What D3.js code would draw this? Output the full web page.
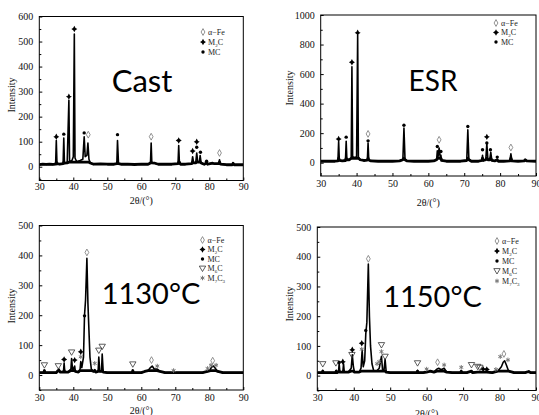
<!DOCTYPE html>
<html><head><meta charset="utf-8">
<script src="https://cdn.jsdelivr.net/npm/d3@7/dist/d3.min.js"></script>
<style>body{margin:0;background:#fff}svg{display:block}</style>
</head><body>
<script>
// ---------- DATA ----------
const xTicks = [30,40,50,60,70,80,90];
const castYTicks = [0,100,200,300,400,500,600];
const esrYTicks = [0,200,400,600,800,1000];
const hotYTicks = [0,100,200,300,400,500];

const castCurve = [[30,8],[31,10],[32,9],[33,10],[34,9],[34.8,10],[35.0,105],[35.2,12],[36,10],[37.0,12],[37.2,115],[37.4,14],[38.2,15],[38.7,265],[38.9,20],[39.6,25],[40.0,40],[40.3,530],[40.5,35],[41,20],[42,25],[42.8,30],[43.2,120],[43.5,40],[44.0,45],[44.3,95],[44.6,30],[45,15],[46,10],[48,11],[50,10],[52,10],[52.8,12],[53.0,105],[53.3,12],[54,10],[56,10],[58,9],[60,10],[62,10],[62.7,15],[62.9,95],[63.1,15],[64,14],[65,10],[67,10],[69,10],[70.8,12],[71.0,85],[71.2,20],[71.5,10],[73,10],[74.8,12],[75.1,40],[75.4,15],[76.0,15],[76.3,55],[76.6,20],[77.1,18],[77.3,45],[77.6,15],[78.5,10],[79.2,15],[79.5,10],[81,14],[81.5,12],[82.7,12],[83.0,28],[83.3,10],[85,8],[86.8,8],[87,14],[87.3,8],[90,8]];
const esrCurve = [[30,10],[32,10],[34,10],[34.8,12],[35.0,144],[35.2,15],[36,12],[36.9,15],[37.1,145],[37.3,20],[38.0,20],[38.5,30],[38.7,650],[38.9,40],[39.5,35],[40.0,40],[40.3,863],[40.5,40],[41,20],[42,15],[43.0,18],[43.2,133],[43.4,18],[44,12],[46,10],[48,10],[50,10],[52,12],[52.9,20],[53.2,234],[53.5,20],[54,12],[56,10],[58,10],[60,10],[61.5,12],[62.3,20],[62.5,80],[62.7,40],[63.0,100],[63.3,40],[63.5,50],[63.7,15],[65,10],[67,10],[69,10],[70.7,15],[71.0,222],[71.3,20],[72,10],[74,10],[74.9,15],[75.1,50],[75.3,15],[76.0,20],[76.3,130],[76.6,20],[77.1,20],[77.4,70],[77.7,15],[78.5,12],[79.2,20],[79.5,10],[81,10],[82.7,12],[83.0,60],[83.3,12],[85,10],[86.7,12],[87,20],[87.4,12],[90,10]];
const c1130Curve = [[30,8],[31.3,8],[31.5,15],[31.7,8],[33,8],[35,8],[35.5,15],[35.8,20],[36.1,10],[37.1,10],[37.3,40],[37.5,10],[38.5,10],[39.3,20],[39.5,55],[39.8,15],[40.4,30],[40.6,12],[41.5,10],[42.0,20],[42.2,45],[42.5,25],[43.0,60],[43.3,200],[43.6,250],[44.0,390],[44.3,240],[44.6,150],[44.9,60],[45.3,20],[46,12],[46.3,18],[46.6,10],[47.3,12],[47.5,60],[47.8,12],[48.3,12],[48.5,70],[48.8,10],[50,8],[52,8],[55,8],[57.3,8],[57.5,15],[57.7,8],[60,8],[61,12],[62,15],[62.7,25],[63.2,30],[63.8,20],[64.7,20],[65.5,12],[67,8],[69.3,8],[69.5,12],[69.7,8],[72,8],[75,8],[78,8],[79.5,12],[80.3,20],[80.8,28],[81.3,30],[81.8,22],[82.5,12],[84,8],[87,8],[90,8]];
const c1150Curve = [[30,10],[31.3,10],[31.5,18],[31.7,10],[33,10],[35,10],[35.2,18],[35.4,10],[35.8,12],[36.0,40],[36.2,12],[37.0,12],[37.2,40],[37.4,12],[38.5,12],[39.3,25],[39.6,70],[39.9,30],[40.2,12],[41.5,12],[42.0,25],[42.3,85],[42.6,30],[43.0,50],[43.3,140],[43.6,180],[44.0,375],[44.3,200],[44.6,100],[45.0,40],[45.5,15],[46.3,15],[46.6,20],[47.0,25],[47.6,65],[47.9,20],[48.3,18],[48.6,55],[48.9,12],[50,10],[53,10],[55,10],[57.3,10],[57.5,18],[57.7,10],[59,10],[60,12],[61,15],[62,12],[62.8,22],[63.3,25],[64,20],[64.8,25],[65.5,12],[67,10],[69.3,10],[69.5,15],[69.7,10],[71,10],[72.3,15],[72.6,10],[74,12],[75.5,12],[76.5,12],[78,10],[79.5,15],[80.5,30],[81.0,45],[81.4,50],[81.9,35],[82.5,15],[84,10],[87,10],[88,14],[88.5,10],[90,10]];

// markers: [2θ, intensity, phase]
const castMarks = [[35.0,120,"M2C"],[37.2,130,"MC"],[38.7,280,"M2C"],[40.3,550,"M2C"],[43.2,135,"MC"],[44.4,128,"aFe"],[53.0,128,"MC"],[62.9,120,"aFe"],[71.0,105,"M2C"],[75.1,63,"M2C"],[76.3,100,"M2C"],[76.3,78,"MC"],[77.4,58,"MC"],[79.2,22,"MC"],[83.0,55,"aFe"]];
const esrMarks = [[35.0,160,"M2C"],[37.1,173,"MC"],[38.7,680,"M2C"],[40.3,880,"M2C"],[43.2,195,"aFe"],[43.2,148,"MC"],[53.2,254,"MC"],[62.5,110,"MC"],[63.0,155,"aFe"],[63.5,76,"MC"],[71.0,245,"MC"],[75.1,88,"MC"],[76.3,175,"M2C"],[76.3,133,"MC"],[77.3,88,"MC"],[79.2,38,"MC"],[83.0,103,"aFe"]];
const c1130Marks = [[31.5,33,"M6C"],[35.6,30,"M6C"],[37.3,52,"M2C"],[39.5,76,"M6C"],[40.4,50,"M2C"],[42.2,61,"M7C3"],[42.2,78,"M2C"],[43.3,198,"MC"],[44.0,410,"aFe"],[46.3,39,"M7C3"],[47.5,82,"M6C"],[48.5,95,"M6C"],[57.5,36,"M6C"],[63.0,50,"aFe"],[64.7,30,"M7C3"],[69.5,15,"M7C3"],[79.5,22,"M7C3"],[80.5,33,"M7C3"],[81.0,48,"aFe"],[82.0,33,"M7C3"]];
const c1150Marks = [[31.5,39,"M6C"],[35.1,42,"M6C"],[36.0,44,"MC"],[37.0,47,"M2C"],[39.5,70,"M6C"],[39.6,87,"M2C"],[42.2,109,"M2C"],[42.2,89,"M7C3"],[43.3,152,"MC"],[44.0,393,"aFe"],[46.4,40,"M7C3"],[47.0,47,"M7C3"],[47.6,81,"M7C3"],[47.6,103,"M6C"],[48.6,64,"M6C"],[57.5,42,"M6C"],[60.0,22,"M7C3"],[63.0,45,"aFe"],[64.8,36,"M7C3"],[69.5,28,"M7C3"],[72.3,36,"M6C"],[74.0,30,"M6C"],[74.6,27,"M6C"],[75.5,22,"M2C"],[76.5,21,"M2C"],[79.0,21,"M7C3"],[80.2,64,"M7C3"],[81.2,73,"aFe"],[82.3,53,"M7C3"]];

const legend3 = ["aFe","M2C","MC"];
const legend5 = ["aFe","M2C","MC","M6C","M7C3"];
const phaseLabels = {aFe:["α−Fe"], M2C:["M","2","C"], MC:["MC"], M6C:["M","6","C"], M7C3:["M","7","C","3"]};
const panelTitles = ["Cast","ESR","1130°C","1150°C"];

// ---------- LAYOUT ----------
const panels = [
  {curve:castCurve, marks:castMarks, yTicks:castYTicks, yDom:[-55,600], minor:50, legend:legend3,
   x0:39.3, x1:243.3, yb:180.5, yt:16.5, tickLab:11.5, xTitle:23.5, yTitleX:15, yTitleY:95,
   title:panelTitles[0], tX:142, tY:92, tSize:31, legX:203, legY:32, legDy:10},
  {curve:esrCurve, marks:esrMarks, yTicks:esrYTicks, yDom:[-90,1000], minor:100, legend:legend3,
   x0:320.7, x1:536, yb:176, yt:15, tickLab:13, xTitle:29.5, yTitleX:293, yTitleY:88,
   title:panelTitles[1], tX:433, tY:91, tSize:28, legX:496, legY:23, legDy:9.5},
  {curve:c1130Curve, marks:c1130Marks, yTicks:hotYTicks, yDom:[-50,500], minor:50, legend:legend5,
   x0:39.3, x1:243.3, yb:390, yt:225.5, tickLab:12.5, xTitle:23.5, yTitleX:15, yTitleY:306,
   title:panelTitles[2], tX:151, tY:304, tSize:29, legX:202.5, legY:240, legDy:9.5},
  {curve:c1150Curve, marks:c1150Marks, yTicks:hotYTicks, yDom:[-50,500], minor:50, legend:legend5,
   x0:317.3, x1:536, yb:390.5, yt:227, tickLab:12.5, xTitle:26.5, yTitleX:293, yTitleY:304,
   title:panelTitles[3], tX:432.5, tY:307, tSize:29, legX:497, legY:241, legDy:10}
];

const W=539,H=415;
const svg = d3.select("body").append("svg").attr("width",W).attr("height",H);
svg.append("rect").attr("width",W).attr("height",H).attr("fill","#fff");
const serif = "'Liberation Serif','DejaVu Serif',serif";

function symbolPath(type){
  switch(type){
    case "aFe": return "M0,-3.4L1.9,0L0,3.4L-1.9,0Z";
    case "M2C": return "M0,-3.2Q0.7,-0.7 3,0Q0.7,0.7 0,3.2Q-0.7,0.7 -3,0Q-0.7,-0.7 0,-3.2Z";
    case "MC": return d3.symbol(d3.symbolCircle, 9)();
    case "M6C": return "M-3.2,-2.4L3.2,-2.4L0,3L-3.2,-2.4Z";
    case "M7C3": return d3.symbol(d3.symbolAsterisk, 14)();
  }
}
function drawSymbol(g, type, x, y){
  const p = g.append("path").attr("d", symbolPath(type)).attr("transform",`translate(${x},${y})`);
  if(type==="aFe") p.attr("fill","none").attr("stroke","#777").attr("stroke-width",0.8);
  else if(type==="M2C") p.attr("fill","#000");
  else if(type==="MC") p.attr("fill","#000");
  else if(type==="M6C") p.attr("fill","none").attr("stroke","#333").attr("stroke-width",0.8);
  else p.attr("fill","none").attr("stroke","#777").attr("stroke-width",1);
}

panels.forEach(P=>{
  const g = svg.append("g");
  const x = d3.scaleLinear().domain([30,90]).range([P.x0,P.x1]);
  const y = d3.scaleLinear().domain(P.yDom).range([P.yb,P.yt]);

  const clipId = "c"+Math.round(P.x0)+"_"+Math.round(P.yt);
  svg.append("clipPath").attr("id",clipId).append("rect")
    .attr("x",P.x0).attr("y",P.yt).attr("width",P.x1-P.x0).attr("height",P.yb-P.yt);
  // thick noisy-looking baseline band (same data, clipped in height)
  g.append("path").datum(P.curve)
    .attr("clip-path",`url(#${clipId})`)
    .attr("d", d3.line().x(d=>x(d[0])).y(d=>y(Math.min(d[1],P.yDom[1]*0.03))))
    .attr("fill","none").attr("stroke","#000").attr("stroke-width",2.8).attr("stroke-linejoin","round");
  // full pattern
  g.append("path").datum(P.curve)
    .attr("clip-path",`url(#${clipId})`)
    .attr("d", d3.line().x(d=>x(d[0])).y(d=>y(d[1])))
    .attr("fill","none").attr("stroke","#000").attr("stroke-width",1.6).attr("stroke-linejoin","round");

  // frame
  g.append("rect").attr("x",P.x0).attr("y",P.yt).attr("width",P.x1-P.x0).attr("height",P.yb-P.yt)
    .attr("fill","none").attr("stroke","#000").attr("stroke-width",1);

  // y axis (inward ticks)
  const ya = d3.axisLeft(y).tickValues(P.yTicks).tickSize(-3).tickPadding(6).tickFormat(d3.format("d"));
  const yg = g.append("g").attr("transform",`translate(${P.x0},0)`).call(ya);
  yg.select(".domain").remove();
  yg.selectAll("text").attr("font-family",serif).attr("font-size",10).attr("fill","#111");
  const minorY = d3.range(-P.minor, P.yDom[1]+1, P.minor).filter(v=>!P.yTicks.includes(v) && v>=P.yDom[0]);
  g.append("g").attr("transform",`translate(${P.x0},0)`).call(d3.axisLeft(y).tickValues(minorY).tickSize(-2).tickFormat(""))
    .select(".domain").remove();

  // x axis
  const xa = d3.axisBottom(x).tickValues(xTicks).tickSize(-3).tickPadding(P.tickLab-9).tickFormat(d3.format("d"));
  const xg = g.append("g").attr("transform",`translate(0,${P.yb})`).call(xa);
  xg.select(".domain").remove();
  xg.selectAll("text").attr("font-family",serif).attr("font-size",10).attr("fill","#111");
  g.append("g").attr("transform",`translate(0,${P.yb})`)
    .call(d3.axisBottom(x).tickValues([35,45,55,65,75,85]).tickSize(-2).tickFormat("")).select(".domain").remove();

  // titles
  g.append("text").attr("x",(P.x0+P.x1)/2).attr("y",P.yb+P.xTitle).attr("text-anchor","middle")
    .attr("font-family",serif).attr("font-size",10).attr("fill","#111").text("2θ/(°)");
  g.append("text").attr("transform",`translate(${P.yTitleX},${P.yTitleY}) rotate(-90)`).attr("text-anchor","middle")
    .attr("font-family",serif).attr("font-size",10).attr("fill","#111").text("Intensity");

  // markers
  P.marks.forEach(m=>drawSymbol(g, m[2], x(m[0]), y(m[1])));

  // legend
  P.legend.forEach((ph,i)=>{
    const ly = P.legY + i*P.legDy;
    drawSymbol(g, ph, P.legX, ly);
    const t = g.append("text").attr("x",P.legX+5).attr("y",ly+2.6)
      .attr("font-family",serif).attr("font-size",8).attr("fill","#222");
    const parts = phaseLabels[ph];
    if(parts.length===1) t.text(parts[0]);
    else parts.forEach((s,k)=>{
      const sub = k%2===1;
      t.append("tspan").attr("font-size",sub?5:8).attr("dy", sub?2:(k>0?-2:0)).text(s);
    });
  });

  // big panel label
  g.append("text").attr("x",P.tX).attr("y",P.tY).attr("text-anchor","middle")
    .attr("font-family","Lato, 'Open Sans', sans-serif").attr("font-size",P.tSize).attr("fill","#000").text(P.title);
});
</script>
</body></html>
